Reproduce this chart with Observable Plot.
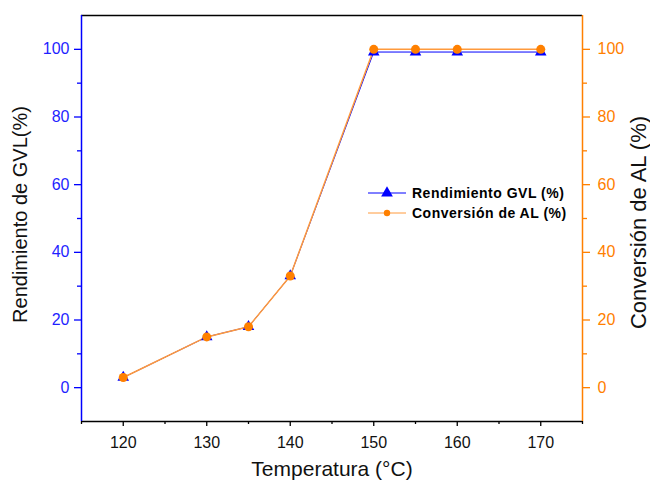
<!DOCTYPE html>
<html>
<head>
<meta charset="utf-8">
<script src="https://cdn.jsdelivr.net/npm/d3@7"></script>
<script src="https://cdn.jsdelivr.net/npm/@observablehq/plot@0.6"></script>
<style>
  html, body { margin: 0; padding: 0; background: #fff; }
  #wrap { position: relative; width: 650px; height: 485px; font-family: "Liberation Sans", Arial, sans-serif; }
  #legend { position: absolute; left: 368px; top: 183px; font-weight: bold; font-size: 14px; letter-spacing: 0.5px; color: #000; }
  #legend .row { display: flex; align-items: center; height: 20px; }
  #legend svg { margin-right: 5px; }
</style>
</head>
<body>
<div id="wrap"></div>
<script>
// ---- data ----
const temperatures = [120, 130, 135, 140, 150, 155, 160, 170];
const gvlYield     = [3, 15, 18, 33, 99.2, 99.2, 99.2, 99.2];
const alConversion = [3, 15, 18, 33, 100, 100, 100, 100];
const seriesNames  = ["Rendimiento GVL (%)", "Conversión de AL (%)"];
const xDomain = [115, 175];
const yDomain = [-10, 110];
const xMajorTicks = [120, 130, 140, 150, 160, 170];
const xMinorTicks = [115, 125, 135, 145, 155, 165, 175];
const yMajorTicks = [0, 20, 40, 60, 80, 100];
const yMinorTicks = [10, 30, 50, 70, 90];

const BLUE = "#0000ff", ORANGE = "#ff8000", LIGHT_ORANGE = "#ff9a3c";

const gvlData = temperatures.map((t, i) => ({t, v: gvlYield[i]}));
const alData = temperatures.map((t, i) => ({t, v: alConversion[i]}));

const chart = Plot.plot({
  width: 650,
  height: 485,
  marginLeft: 81,
  marginRight: 68,
  marginTop: 15,
  marginBottom: 64,
  style: {fontFamily: "'Liberation Sans', Arial, sans-serif", background: "white"},
  x: {domain: xDomain},
  y: {domain: yDomain},
  marks: [
    // left axis (blue)
    Plot.axisY({anchor: "left", ticks: yMajorTicks, tickSize: 7, tickPadding: 5, fontSize: 16, stroke: BLUE, fill: "#1f1fff", label: null, strokeWidth: 1.3}),
    Plot.axisY({anchor: "left", ticks: yMinorTicks, tickSize: 4, tickFormat: () => "", stroke: BLUE, label: null, strokeWidth: 1.3}),
    // right axis (orange)
    Plot.axisY({anchor: "right", ticks: yMajorTicks, tickSize: 7, tickPadding: 8, fontSize: 16, stroke: ORANGE, fill: ORANGE, label: null, strokeWidth: 1.3}),
    Plot.axisY({anchor: "right", ticks: yMinorTicks, tickSize: 4, tickFormat: () => "", stroke: ORANGE, label: null, strokeWidth: 1.3}),
    // bottom axis
    Plot.axisX({anchor: "bottom", ticks: xMajorTicks, tickSize: 5, tickPadding: 10, fontSize: 16, stroke: "#000", fill: "#111", label: null, strokeWidth: 1.3}),
    Plot.axisX({anchor: "bottom", ticks: xMinorTicks, tickSize: 3, tickFormat: () => "", stroke: "#000", label: null, strokeWidth: 1.3}),
    // frame
    Plot.ruleY([yDomain[1]], {stroke: "#000", strokeWidth: 1.5}),
    Plot.ruleY([yDomain[0]], {stroke: "#000", strokeWidth: 1.5}),
    Plot.ruleX([xDomain[0]], {stroke: BLUE, strokeWidth: 1.5}),
    Plot.ruleX([xDomain[1]], {stroke: ORANGE, strokeWidth: 1.5}),
    // series
    Plot.line(gvlData, {x: "t", y: "v", stroke: BLUE, strokeWidth: 1}),
    Plot.line(alData, {x: "t", y: "v", stroke: LIGHT_ORANGE, strokeWidth: 1.5}),
    Plot.dot(gvlData, {x: "t", y: "v", symbol: "triangle", r: 4.3, fill: BLUE, stroke: "none"}),
    Plot.dot(alData, {x: "t", y: "v", r: 4.5, fill: ORANGE, stroke: "none"}),
    // axis titles
    Plot.text(["Rendimiento de GVL(%)"], {frameAnchor: "left", textAnchor: "middle", dx: -61, dy: -4, rotate: -90, fontSize: 20, fill: "#111"}),
    Plot.text(["Conversión de AL (%)"], {frameAnchor: "right", textAnchor: "middle", dx: 56, dy: 4, rotate: -90, fontSize: 22, fill: "#111"}),
    Plot.text(["Temperatura (°C)"], {frameAnchor: "bottom", dy: 54, fontSize: 21, fill: "#111"})
  ]
});

const wrap = document.getElementById("wrap");
wrap.appendChild(chart);

// legend
const legend = document.createElement("div");
legend.id = "legend";
const swatch = (color, kind) => {
  const marker = kind === "triangle"
    ? `<path d="${d3.symbol(d3.symbolTriangle, 60)()}" transform="translate(19,10)" fill="${color}"/>`
    : `<circle cx="19" cy="10" r="3.2" fill="${ORANGE}"/>`;
  return `<svg width="39" height="20"><line x1="0" x2="38" y1="10" y2="10" stroke="${color}" stroke-width="1"/>${marker}</svg>`;
};
legend.innerHTML =
  `<div class="row">${swatch(BLUE, "triangle")}<span>${seriesNames[0]}</span></div>` +
  `<div class="row">${swatch(LIGHT_ORANGE, "circle")}<span>${seriesNames[1]}</span></div>`;
wrap.appendChild(legend);
</script>
</body>
</html>
